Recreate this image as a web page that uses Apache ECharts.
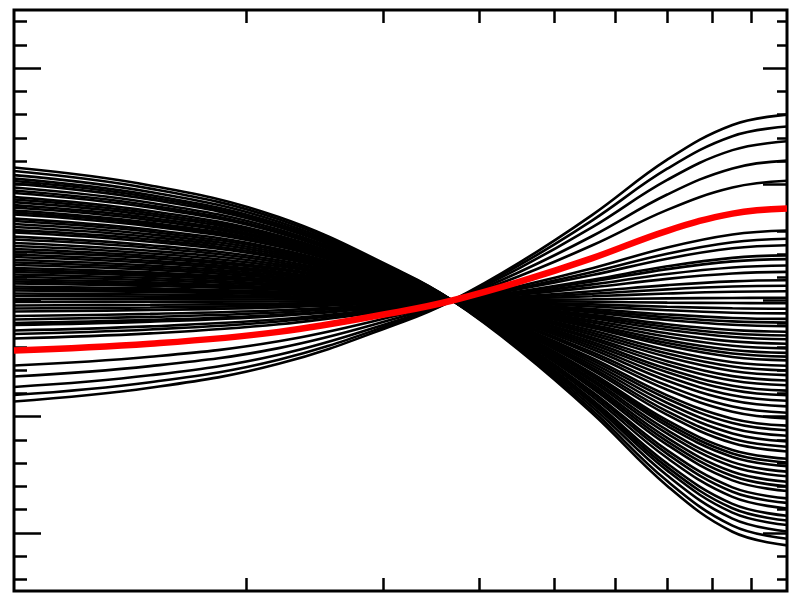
<!DOCTYPE html>
<html>
<head>
<meta charset="utf-8">
<script src="https://cdn.jsdelivr.net/npm/echarts@6/dist/echarts.min.js"></script>
<style>
html,body{margin:0;padding:0;background:#fff;}
#chart{width:791px;height:594px;}
</style>
</head>
<body>
<div id="chart"></div>
<script>
// x positions (log axis) at which every curve is sampled
const xValues = [1, 1.5, 2.2, 3.2, 3.69, 4.5, 5.6, 7, 8.5, 10];

// highlighted (red) curve
const redCurve = [-0.43, -0.372, -0.27, -0.088, 0, 0.16, 0.365, 0.60, 0.748, 0.792];

// black curves that rise to the right
const risingCurves = [
  [-0.869, -0.751, -0.545, -0.178, 0, 0.323, 0.737, 1.212, 1.511, 1.600],
  [-0.813, -0.703, -0.510, -0.166, 0, 0.302, 0.690, 1.134, 1.414, 1.497],
  [-0.744, -0.644, -0.467, -0.152, 0, 0.277, 0.631, 1.038, 1.294, 1.370],
  [-0.654, -0.565, -0.410, -0.134, 0, 0.243, 0.555, 0.912, 1.137, 1.204],
  [-0.559, -0.484, -0.351, -0.114, 0, 0.208, 0.475, 0.780, 0.972, 1.030],
  [-0.327, -0.283, -0.205, -0.067, 0, 0.122, 0.277, 0.456, 0.568, 0.602],
  [-0.288, -0.249, -0.181, -0.059, 0, 0.107, 0.245, 0.402, 0.501, 0.531],
  [-0.258, -0.223, -0.162, -0.053, 0, 0.096, 0.219, 0.360, 0.449, 0.475],
  [-0.211, -0.182, -0.132, -0.043, 0, 0.078, 0.179, 0.294, 0.367, 0.388],
  [-0.194, -0.167, -0.122, -0.040, 0, 0.072, 0.164, 0.270, 0.337, 0.356],
  [-0.163, -0.141, -0.103, -0.033, 0, 0.061, 0.139, 0.228, 0.284, 0.301],
  [-0.133, -0.115, -0.084, -0.027, 0, 0.050, 0.113, 0.186, 0.232, 0.246],
  [-0.095, -0.082, -0.059, -0.019, 0, 0.035, 0.080, 0.132, 0.165, 0.174],
  [-0.069, -0.060, -0.043, -0.014, 0, 0.026, 0.058, 0.096, 0.120, 0.127],
  [-0.043, -0.037, -0.027, -0.009, 0, 0.016, 0.037, 0.060, 0.075, 0.079],
  [-0.013, -0.011, -0.008, -0.003, 0, 0.005, 0.011, 0.018, 0.022, 0.024]
];

// black curves that fall to the right
const fallingCurves = [
  [0.013, 0.011, 0.008, 0.003, 0, -0.005, -0.011, -0.018, -0.022, -0.024],
  [0.039, 0.033, 0.024, 0.008, 0, -0.014, -0.033, -0.054, -0.067, -0.071],
  [0.060, 0.052, 0.038, 0.012, 0, -0.022, -0.051, -0.084, -0.105, -0.111],
  [0.086, 0.074, 0.054, 0.018, 0, -0.032, -0.073, -0.120, -0.150, -0.158],
  [0.103, 0.089, 0.065, 0.021, 0, -0.038, -0.088, -0.144, -0.180, -0.190],
  [0.120, 0.104, 0.076, 0.025, 0, -0.045, -0.102, -0.168, -0.209, -0.222],
  [0.146, 0.126, 0.092, 0.030, 0, -0.054, -0.124, -0.204, -0.254, -0.269],
  [0.163, 0.141, 0.103, 0.033, 0, -0.061, -0.139, -0.228, -0.284, -0.301],
  [0.181, 0.156, 0.113, 0.037, 0, -0.067, -0.153, -0.252, -0.314, -0.333],
  [0.202, 0.175, 0.127, 0.041, 0, -0.075, -0.172, -0.282, -0.352, -0.372],
  [0.224, 0.193, 0.140, 0.046, 0, -0.083, -0.190, -0.312, -0.389, -0.412],
  [0.245, 0.212, 0.154, 0.050, 0, -0.091, -0.208, -0.342, -0.426, -0.451],
  [0.262, 0.227, 0.165, 0.054, 0, -0.098, -0.223, -0.366, -0.456, -0.483],
  [0.280, 0.242, 0.176, 0.057, 0, -0.104, -0.237, -0.390, -0.486, -0.515],
  [0.305, 0.264, 0.192, 0.062, 0, -0.114, -0.259, -0.426, -0.531, -0.562],
  [0.327, 0.283, 0.205, 0.067, 0, -0.122, -0.277, -0.456, -0.568, -0.602],
  [0.348, 0.301, 0.219, 0.071, 0, -0.130, -0.296, -0.486, -0.606, -0.642],
  [0.374, 0.324, 0.235, 0.077, 0, -0.139, -0.318, -0.522, -0.651, -0.689],
  [0.396, 0.342, 0.248, 0.081, 0, -0.147, -0.336, -0.552, -0.688, -0.729],
  [0.421, 0.365, 0.265, 0.086, 0, -0.157, -0.358, -0.588, -0.733, -0.776],
  [0.443, 0.383, 0.278, 0.091, 0, -0.165, -0.376, -0.618, -0.770, -0.816],
  [0.469, 0.405, 0.294, 0.096, 0, -0.174, -0.398, -0.654, -0.815, -0.863],
  [0.495, 0.428, 0.311, 0.101, 0, -0.184, -0.420, -0.690, -0.860, -0.911],
  [0.525, 0.454, 0.329, 0.107, 0, -0.195, -0.445, -0.732, -0.913, -0.966],
  [0.550, 0.476, 0.346, 0.113, 0, -0.205, -0.467, -0.768, -0.957, -1.014],
  [0.585, 0.506, 0.367, 0.120, 0, -0.218, -0.496, -0.816, -1.017, -1.077],
  [0.606, 0.525, 0.381, 0.124, 0, -0.226, -0.515, -0.846, -1.055, -1.117],
  [0.632, 0.547, 0.397, 0.129, 0, -0.235, -0.537, -0.882, -1.100, -1.164],
  [0.658, 0.569, 0.413, 0.135, 0, -0.245, -0.558, -0.918, -1.144, -1.212],
  [0.684, 0.591, 0.429, 0.140, 0, -0.254, -0.580, -0.954, -1.189, -1.259],
  [0.705, 0.610, 0.443, 0.144, 0, -0.262, -0.599, -0.984, -1.227, -1.299],
  [0.740, 0.640, 0.464, 0.151, 0, -0.275, -0.628, -1.032, -1.287, -1.362],
  [0.757, 0.655, 0.475, 0.155, 0, -0.282, -0.642, -1.056, -1.316, -1.394],
  [0.774, 0.670, 0.486, 0.158, 0, -0.288, -0.657, -1.080, -1.346, -1.426],
  [0.800, 0.692, 0.502, 0.164, 0, -0.298, -0.679, -1.116, -1.391, -1.473],
  [0.821, 0.711, 0.516, 0.168, 0, -0.306, -0.697, -1.146, -1.429, -1.513],
  [0.847, 0.733, 0.532, 0.173, 0, -0.315, -0.719, -1.182, -1.474, -1.560],
  [0.869, 0.751, 0.545, 0.178, 0, -0.323, -0.737, -1.212, -1.511, -1.600],
  [0.890, 0.770, 0.559, 0.182, 0, -0.331, -0.756, -1.242, -1.548, -1.639],
  [0.925, 0.800, 0.581, 0.189, 0, -0.344, -0.785, -1.290, -1.608, -1.703],
  [0.946, 0.818, 0.594, 0.194, 0, -0.352, -0.803, -1.320, -1.646, -1.742],
  [0.972, 0.841, 0.610, 0.199, 0, -0.362, -0.825, -1.356, -1.690, -1.790],
  [1.006, 0.870, 0.632, 0.206, 0, -0.374, -0.854, -1.404, -1.750, -1.853],
  [1.028, 0.889, 0.645, 0.210, 0, -0.382, -0.872, -1.434, -1.788, -1.893],
  [1.049, 0.908, 0.659, 0.215, 0, -0.390, -0.891, -1.464, -1.825, -1.932],
  [1.079, 0.934, 0.678, 0.221, 0, -0.402, -0.916, -1.506, -1.877, -1.988],
  [1.114, 0.963, 0.699, 0.228, 0, -0.414, -0.945, -1.554, -1.937, -2.051],
  [1.144, 0.990, 0.718, 0.234, 0, -0.426, -0.971, -1.596, -1.990, -2.107]
];

// tick marks (no labels in the original)
const xTicks = [2, 3, 4, 5, 6, 7, 8, 9];
const yMajorTicks = [-2, -1, 0, 1, 2];
const yMinorTicks = [-2.4, -2.2, -1.8, -1.6, -1.4, -1.2, -0.8, -0.6, -0.4, -0.2,
                     0.2, 0.4, 0.6, 0.8, 1.2, 1.4, 1.6, 1.8, 2.2, 2.4];
const xMin = 1, xMax = 10, yMin = -2.5, yMax = 2.5;

function toPairs(ys) { return ys.map((y, i) => [xValues[i], y]); }

const series = [];
risingCurves.concat(fallingCurves).forEach((c) => {
  series.push({
    type: 'line', data: toPairs(c), smooth: 0.4, symbol: 'none',
    lineStyle: { color: '#000', width: 2.6 }, z: 2, silent: true
  });
});
series.push({
  type: 'line', data: toPairs(redCurve), smooth: 0.4, symbol: 'none',
  lineStyle: { color: '#ff0000', width: 6.5 }, z: 5, silent: true
});

function xAxisDef(pos) {
  return {
    type: 'log', logBase: 10, min: xMin, max: xMax, position: pos,
    axisLine: { show: false, onZero: false },
    axisLabel: { show: false },
    splitLine: { show: false },
    minorTick: { show: false },
    axisTick: { show: true, inside: true, length: 13, customValues: xTicks,
                lineStyle: { color: '#000', width: 2.5 } }
  };
}
function yAxisDef(pos, ticks, len) {
  return {
    type: 'value', min: yMin, max: yMax, position: pos,
    axisLine: { show: false, onZero: false },
    axisLabel: { show: false },
    splitLine: { show: false },
    axisTick: { show: true, inside: true, length: len, customValues: ticks,
                lineStyle: { color: '#000', width: 2.5 } }
  };
}

const chart = echarts.init(document.getElementById('chart'), null, { renderer: 'canvas' });
chart.setOption({
  animation: false,
  backgroundColor: '#fff',
  grid: { left: 14, right: 4, top: 10, bottom: 3, show: true,
          borderColor: '#000', borderWidth: 3, backgroundColor: 'transparent' },
  xAxis: [xAxisDef('bottom'), xAxisDef('top')],
  yAxis: [
    yAxisDef('left', yMajorTicks, 27),
    yAxisDef('left', yMinorTicks, 13),
    yAxisDef('right', yMajorTicks, 24),
    yAxisDef('right', yMinorTicks, 10)
  ],
  series: series
});
</script>
</body>
</html>
